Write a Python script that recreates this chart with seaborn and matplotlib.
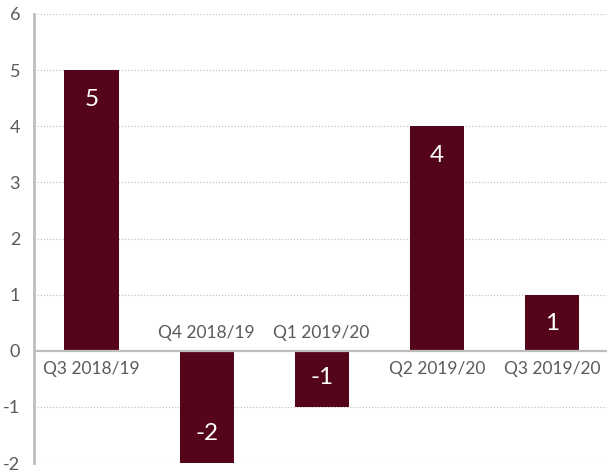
import matplotlib
matplotlib.use("Agg")
import matplotlib.pyplot as plt
import seaborn as sns
import pandas as pd

quarters = ["Q3 2018/19", "Q4 2018/19", "Q1 2019/20", "Q2 2019/20", "Q3 2019/20"]
changes = [5, -2, -1, 4, 1]
y_ticks = [-2, -1, 0, 1, 2, 3, 4, 5, 6]

bar_color = "#54051a"
text_gray = "#5a5a5a"
line_gray = "#bdbdbd"

sns.set_theme(style="white")
plt.rcParams["font.family"] = ["Lato", "DejaVu Sans"]

df = pd.DataFrame({"quarter": quarters, "change": changes})

fig = plt.figure(figsize=(6.07, 4.75), dpi=100)
ax = fig.add_axes([34 / 607, 12 / 475, 1 - 34 / 607, 449 / 475])

sns.barplot(data=df, x="quarter", y="change", color=bar_color, width=0.47,
            saturation=1, linewidth=0, ax=ax, zorder=3)

ax.set_ylim(-2, 6)
ax.set_xlim(-0.5, 4.48)
ax.set_yticks(y_ticks)
ax.set_yticklabels([str(t) for t in y_ticks], fontsize=13, color=text_gray)
ax.tick_params(axis="y", length=0, pad=10)
ax.set_xticks([])
ax.set_xlabel("")
ax.set_ylabel("")

for t in y_ticks:
    if t != 0:
        ax.axhline(t, color="#c4c4c4", lw=0.9, ls=(0, (1, 1.5)), zorder=1)
ax.axhline(0, color=line_gray, lw=1.6, zorder=4)

for s in ["top", "right", "bottom"]:
    ax.spines[s].set_visible(False)
ax.spines["left"].set_color(line_gray)
ax.spines["left"].set_linewidth(2)

for i, (q, v) in enumerate(zip(quarters, changes)):
    sign = 1 if v >= 0 else -1
    ax.annotate(str(v), xy=(i, v), xytext=(0, -21 * sign), textcoords="offset points",
                ha="center", va="center", color="white", fontsize=17.5, zorder=5)
    ax.annotate(q, xy=(i, 0), xytext=(0, -13 * sign), textcoords="offset points",
                ha="center", va="center", color=text_gray, fontsize=12.5, zorder=5)

fig.savefig("out.png", dpi=100)
